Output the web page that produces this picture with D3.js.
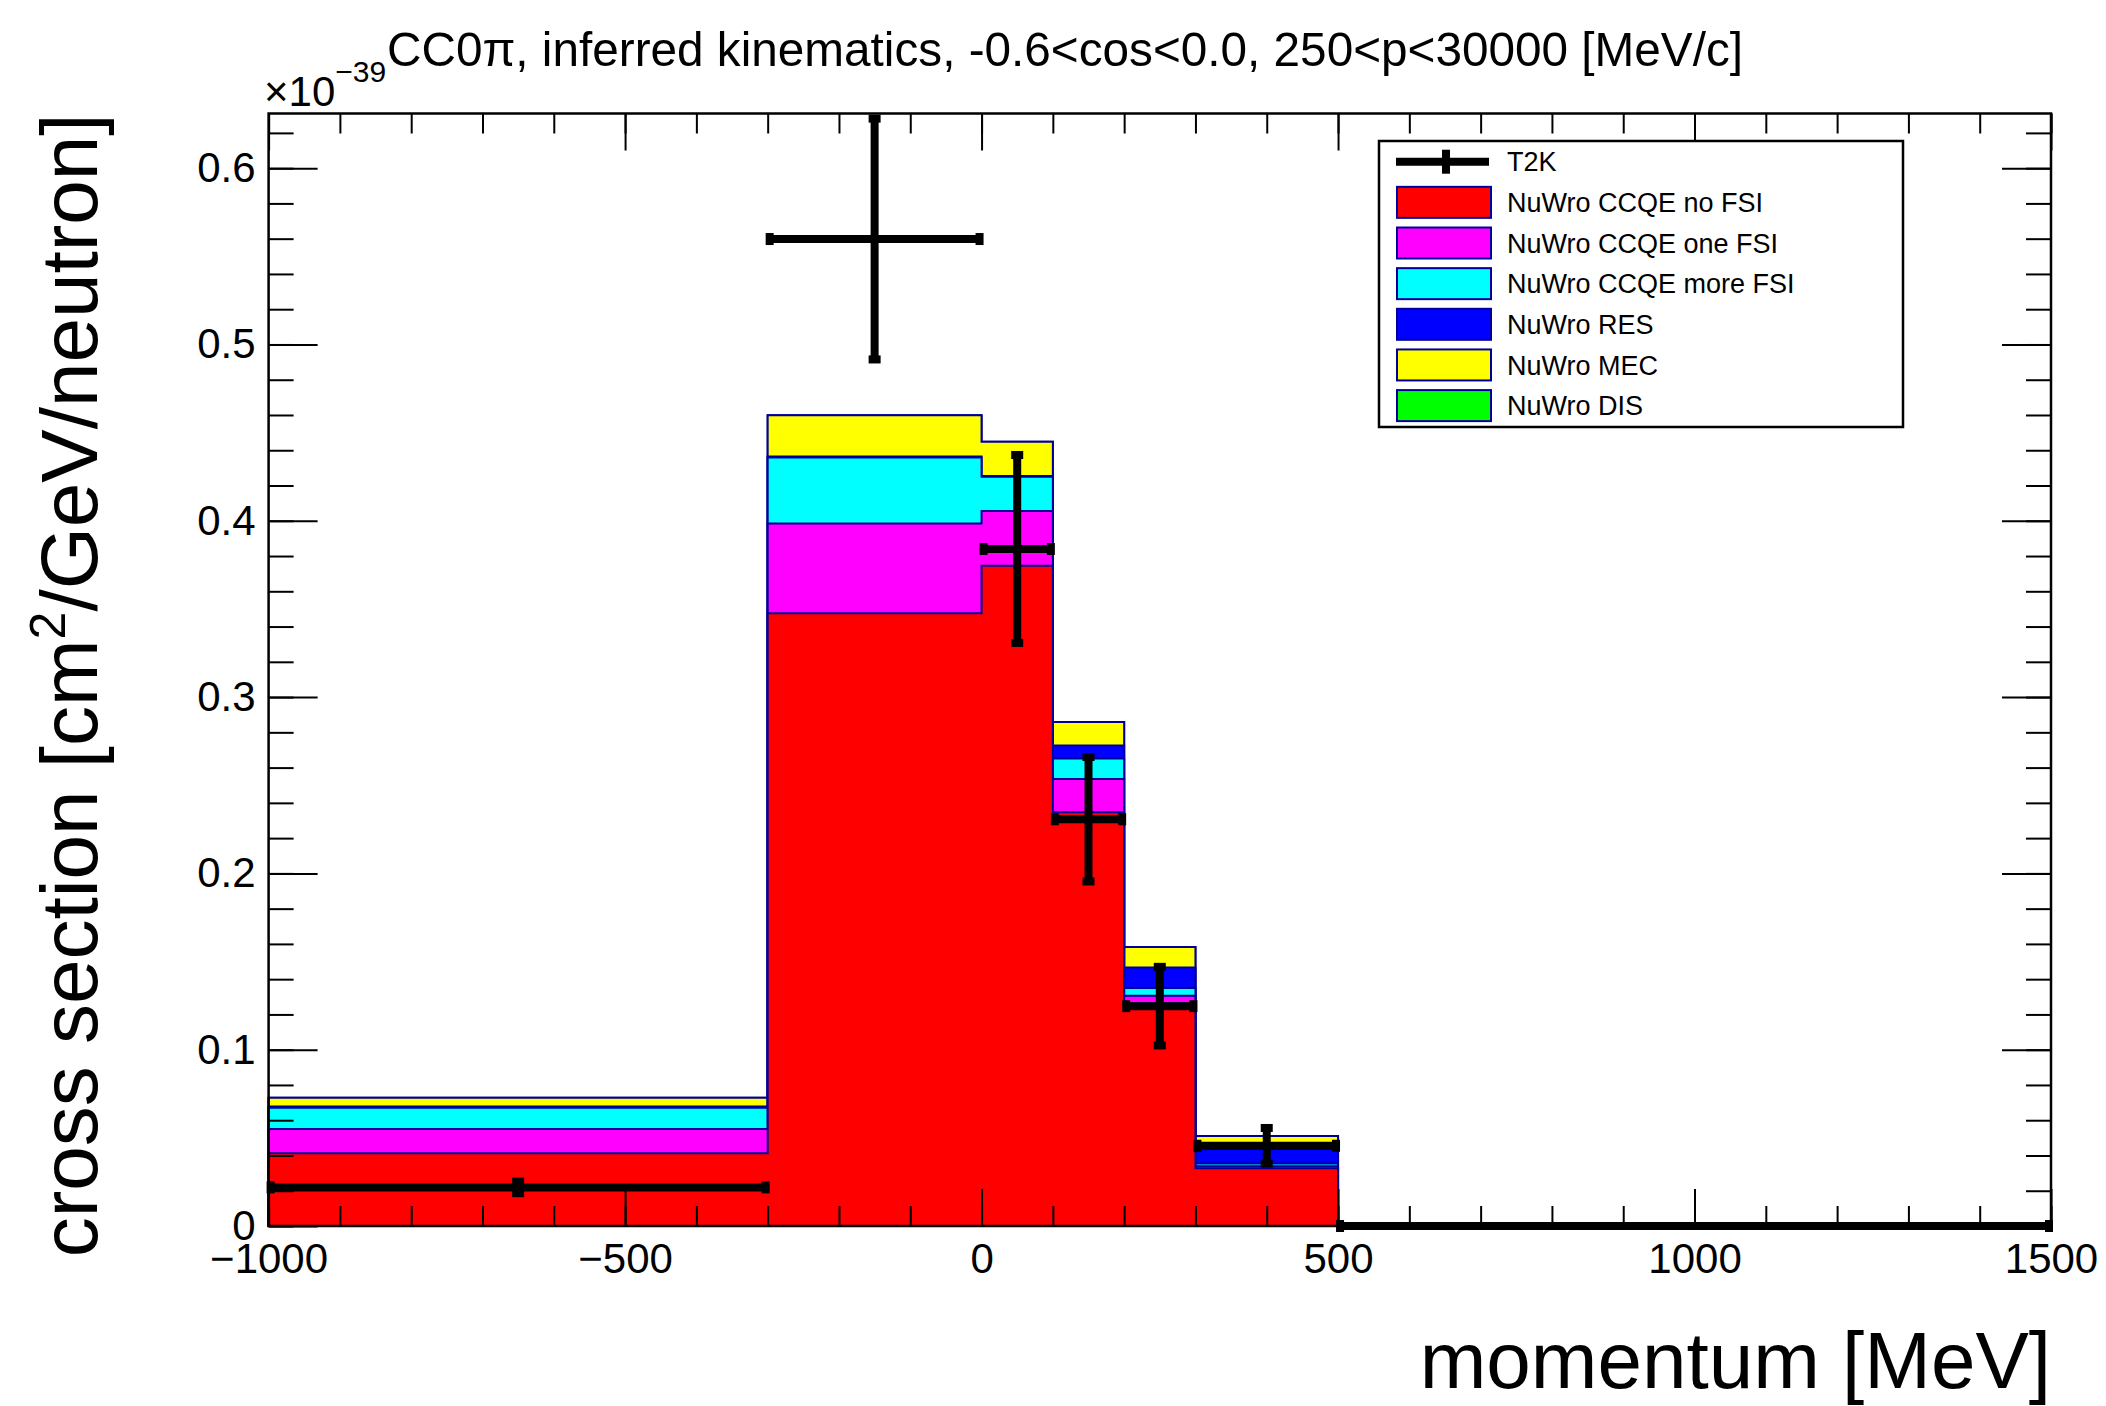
<!DOCTYPE html>
<html><head><meta charset="utf-8">
<script src="https://cdn.jsdelivr.net/npm/d3@7"></script>
<style>
body{margin:0;background:#fff}
text{font-family:"Liberation Sans",Arial,Helvetica,sans-serif;fill:#000}
</style>
</head><body>
<svg id="c" width="2106" height="1406"></svg>
<script>
// ---------------- data ----------------
const binEdges = [-1000, -300, 0, 100, 200, 300, 500, 1500];
const ccqeNoFSI   = [0.0412, 0.3475, 0.3745, 0.2347, 0.1264, 0.0327, 0];
const ccqeOneFSI  = [0.0138, 0.0510, 0.0310, 0.0189, 0.0042, 0.0012, 0];
const ccqeMoreFSI = [0.0121, 0.0374, 0.0194, 0.0115, 0.0044, 0.0015, 0];
const resValues   = [0.0007, 0.0005, 0.0005, 0.0075, 0.0116, 0.0116, 0];
const mecValues   = [0.0050, 0.0235, 0.0194, 0.0132, 0.0116, 0.0040, 0];
const disValues   = [0, 0, 0, 0, 0, 0, 0];
const t2kValues   = [0.0219, 0.5598, 0.3840, 0.2307, 0.1247, 0.0455, 0];
const t2kErrors   = [0.0050, 0.0700, 0.0550, 0.0370, 0.0240, 0.0118, 0];
const seriesNames = ["NuWro CCQE no FSI","NuWro CCQE one FSI","NuWro CCQE more FSI","NuWro RES","NuWro MEC","NuWro DIS"];
const seriesColors = ["#ff0000","#ff00ff","#00ffff","#0000ff","#ffff00","#00ff00"];
const xTickLabels = [-1000, -500, 0, 500, 1000, 1500];
const yTickLabels = [0, 0.1, 0.2, 0.3, 0.4, 0.5, 0.6];
const titleText = "CC0\u03c0, inferred kinematics, -0.6<cos<0.0, 250<p<30000 [MeV/c]";
const xTitle = "momentum [MeV]";

// ---------------- layout ----------------
const svg = d3.select("#c");
const m = {l: 268.6, r: 2051, t: 113.5, b: 1226};
const x = d3.scaleLinear().domain([-1000, 1500]).range([m.l, m.r]);
const y = d3.scaleLinear().domain([0, 0.631]).range([m.b, m.t]);
const histLine = "#000099";

svg.append("rect").attr("width", 2106).attr("height", 1406).attr("fill", "#fff");

// ---------------- stacked histograms ----------------
const series = [ccqeNoFSI, ccqeOneFSI, ccqeMoreFSI, resValues, mecValues, disValues];
const cums = [];
series.forEach((s, i) => {
  cums.push(s.map((v, j) => v + (i > 0 ? cums[i - 1][j] : 0)));
});
const line = d3.line().x(d => x(d[0])).y(d => y(d[1]));
const gh = svg.append("g");
for (let i = series.length - 1; i >= 0; i--) {
  const c = cums[i];
  const pts = [[binEdges[0], 0]];
  c.forEach((v, j) => { pts.push([binEdges[j], v]); pts.push([binEdges[j + 1], v]); });
  pts.push([binEdges[binEdges.length - 1], 0]);
  gh.append("path").attr("d", line(pts) + "Z")
    .attr("fill", seriesColors[i]).attr("stroke", histLine).attr("stroke-width", 2)
    .attr("stroke-linejoin", "miter");
}

// ---------------- axes ----------------
const fmtX = d => d === 0 ? "0" : (d < 0 ? "\u2212" + Math.abs(d) : String(d));
const fmtY = d => d === 0 ? "0" : d3.format(".1f")(d);
const xMinor = d3.range(0, 26).map(i => -1000 + i * 100);
const yMinor = d3.range(0, 32).map(i => i * 0.02);

function styleAxis(g, fs) {
  g.select(".domain").remove();
  g.selectAll(".tick line").attr("stroke", "#000").attr("stroke-width", 2);
  g.selectAll("text").attr("font-size", fs).attr("fill", "#000")
    .style("font-family", '"Liberation Sans",Arial,sans-serif');
}
const ga = svg.append("g");
styleAxis(ga.append("g").attr("transform", `translate(0,${m.b})`)
  .call(d3.axisBottom(x).tickValues(xMinor).tickSize(-20).tickFormat("")), 0);
styleAxis(ga.append("g").attr("transform", `translate(0,${m.b})`)
  .call(d3.axisBottom(x).tickValues(xTickLabels).tickSize(-37).tickPadding(17).tickFormat(fmtX)), 42);
styleAxis(ga.append("g").attr("transform", `translate(0,${m.t})`)
  .call(d3.axisTop(x).tickValues(xMinor).tickSize(-20).tickFormat("")), 0);
styleAxis(ga.append("g").attr("transform", `translate(0,${m.t})`)
  .call(d3.axisTop(x).tickValues(xTickLabels).tickSize(-37).tickFormat("")), 0);
styleAxis(ga.append("g").attr("transform", `translate(${m.l},0)`)
  .call(d3.axisLeft(y).tickValues(yMinor).tickSize(-25).tickFormat("")), 0);
styleAxis(ga.append("g").attr("transform", `translate(${m.l},0)`)
  .call(d3.axisLeft(y).tickValues(yTickLabels).tickSize(-49).tickPadding(13).tickFormat(fmtY)), 42);
styleAxis(ga.append("g").attr("transform", `translate(${m.r},0)`)
  .call(d3.axisRight(y).tickValues(yMinor).tickSize(-25).tickFormat("")), 0);
styleAxis(ga.append("g").attr("transform", `translate(${m.r},0)`)
  .call(d3.axisRight(y).tickValues(yTickLabels).tickSize(-49).tickFormat("")), 0);

svg.append("rect").attr("x", m.l).attr("y", m.t).attr("width", m.r - m.l).attr("height", m.b - m.t)
  .attr("fill", "none").attr("stroke", "#000").attr("stroke-width", 2.5);

// ---------------- T2K data points ----------------
const gd = svg.append("g");
t2kValues.forEach((v, j) => {
  const x0 = x(binEdges[j]), x1 = x(binEdges[j + 1]);
  const xc = x((binEdges[j] + binEdges[j + 1]) / 2);
  const yc = y(v);
  gd.append("line").attr("x1", x0).attr("x2", x1).attr("y1", yc).attr("y2", yc)
    .attr("stroke", "#000").attr("stroke-width", 8);
  gd.append("rect").attr("x", x0 - 2).attr("y", yc - 6).attr("width", 8).attr("height", 12).attr("fill", "#000");
  gd.append("rect").attr("x", x1 - 6).attr("y", yc - 6).attr("width", 8).attr("height", 12).attr("fill", "#000");
  const e = t2kErrors[j];
  if (e > 0) {
    const yt = y(v + e), yb = y(v - e);
    gd.append("line").attr("x1", xc).attr("x2", xc).attr("y1", yt).attr("y2", yb)
      .attr("stroke", "#000").attr("stroke-width", 8);
    gd.append("rect").attr("x", xc - 6).attr("y", yt - 1).attr("width", 12).attr("height", 8).attr("fill", "#000");
    gd.append("rect").attr("x", xc - 6).attr("y", yb - 7).attr("width", 12).attr("height", 8).attr("fill", "#000");
  }
});

// ---------------- legend ----------------
const lg = svg.append("g");
lg.append("rect").attr("x", 1379).attr("y", 141).attr("width", 524).attr("height", 286)
  .attr("fill", "#fff").attr("stroke", "#000").attr("stroke-width", 2.5);
const rowY = i => 161.7 + i * 40.65;
lg.append("line").attr("x1", 1396).attr("x2", 1489).attr("y1", rowY(0)).attr("y2", rowY(0))
  .attr("stroke", "#000").attr("stroke-width", 8);
lg.append("line").attr("x1", 1446).attr("x2", 1446).attr("y1", rowY(0) - 12).attr("y2", rowY(0) + 12)
  .attr("stroke", "#000").attr("stroke-width", 8);
lg.append("text").attr("x", 1507).attr("y", rowY(0)).attr("dy", "0.36em").attr("font-size", 27).text("T2K");
seriesNames.forEach((name, i) => {
  const cy = rowY(i + 1);
  lg.append("rect").attr("x", 1397).attr("y", cy - 15.5).attr("width", 94).attr("height", 31)
    .attr("fill", seriesColors[i]).attr("stroke", histLine).attr("stroke-width", 2);
  lg.append("text").attr("x", 1507).attr("y", cy).attr("dy", "0.36em").attr("font-size", 27).text(name);
});

// ---------------- texts ----------------
svg.append("text").attr("x", 387).attr("y", 66).attr("font-size", 49)
  .attr("textLength", 1356).attr("lengthAdjust", "spacingAndGlyphs").text(titleText);
const ex = svg.append("text").attr("x", 264).attr("y", 106).attr("font-size", 42);
ex.append("tspan").text("\u00d710");
ex.append("tspan").attr("font-size", 30).attr("dy", -24).text("\u221239");

svg.append("text").attr("x", m.r).attr("y", 1388).attr("text-anchor", "end").attr("font-size", 80).text(xTitle);

const yt = svg.append("text").attr("transform", `translate(97,${m.t}) rotate(-90)`)
  .attr("text-anchor", "end").attr("font-size", 80);
yt.append("tspan").text("cross section [cm");
yt.append("tspan").attr("font-size", 50).attr("dy", -32).text("2");
yt.append("tspan").attr("dy", 32).text("/GeV/neutron]");
</script>
</body></html>
